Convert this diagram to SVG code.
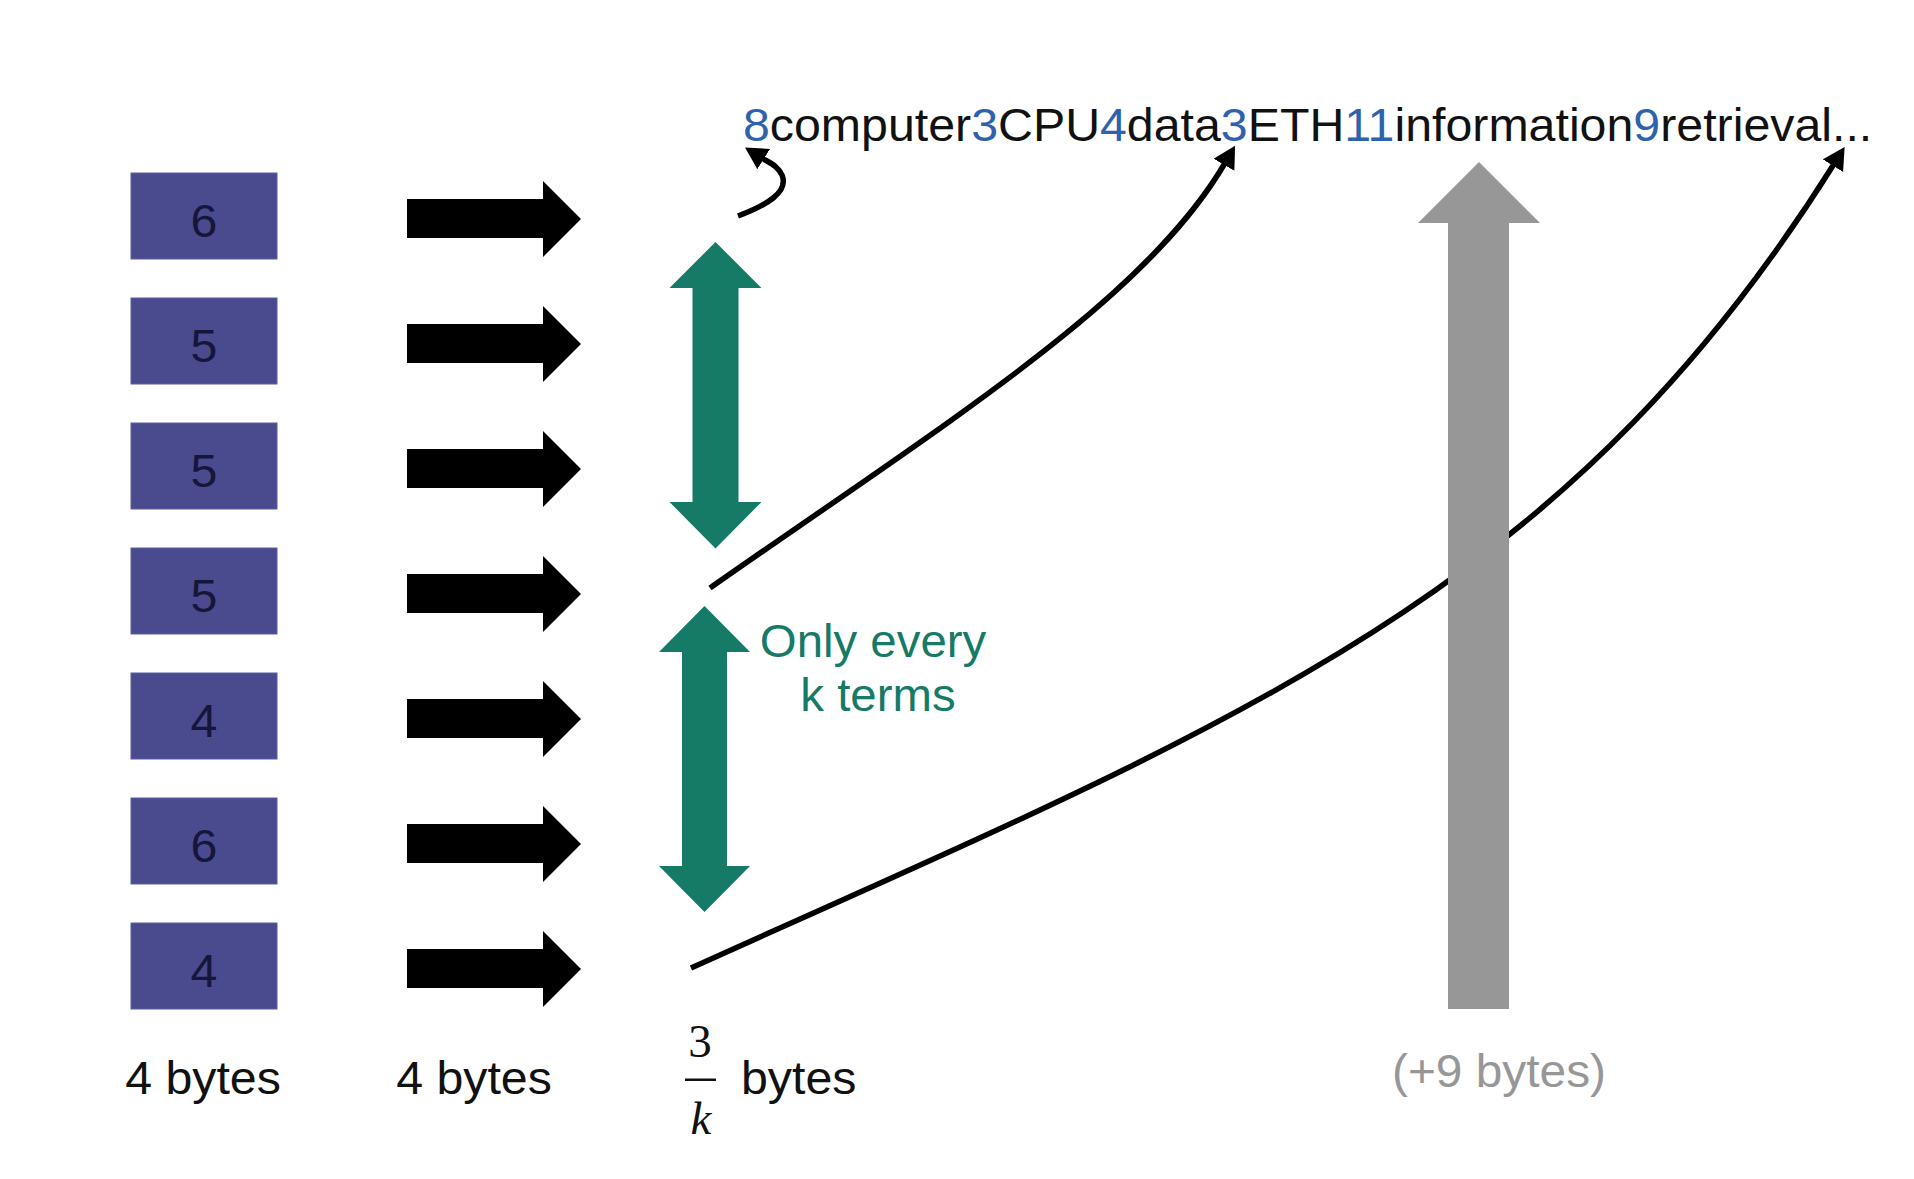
<svg xmlns="http://www.w3.org/2000/svg" width="1914" height="1179" viewBox="0 0 1914 1179">
<defs>
<style>
.box{fill:#4a4a8e;stroke:#5c5ca6;stroke-width:1}
.num{font-family:"Liberation Sans",Arial,sans-serif;font-size:46px;fill:#14163a;text-anchor:middle}
.lbl{font-family:"Liberation Sans",Arial,sans-serif;font-size:46px;fill:#111}
.mid{text-anchor:middle}
.blue{fill:#2e62ad}
.green{fill:#157a66}
.gray{fill:#979797}
.math{font-family:"Liberation Serif","Times New Roman",serif;font-size:47px;fill:#111;text-anchor:middle}
.curve{fill:none;stroke:#000;stroke-width:5.5;marker-end:url(#head)}
</style>
<marker id="head" markerUnits="userSpaceOnUse" markerWidth="26" markerHeight="26" refX="2" refY="12" orient="auto" viewBox="0 0 26 26">
<path d="M0,0 L22,12 L0,24 Z" fill="#000"/>
</marker>
<path id="blk" d="M407,199 H543 V181 L581,219 L543,257 V238 H407 Z" fill="#000"/>
</defs>
<rect width="1914" height="1179" fill="#fff"/>

<g id="boxes">
<g id="box1"><rect class="box" x="131" y="173" width="146" height="86"/><text class="num" transform="translate(204,237) scale(1.05,1)">6</text></g>
<g id="box2"><rect class="box" x="131" y="298" width="146" height="86"/><text class="num" transform="translate(204,362) scale(1.05,1)">5</text></g>
<g id="box3"><rect class="box" x="131" y="423" width="146" height="86"/><text class="num" transform="translate(204,487) scale(1.05,1)">5</text></g>
<g id="box4"><rect class="box" x="131" y="548" width="146" height="86"/><text class="num" transform="translate(204,612) scale(1.05,1)">5</text></g>
<g id="box5"><rect class="box" x="131" y="673" width="146" height="86"/><text class="num" transform="translate(204,737) scale(1.05,1)">4</text></g>
<g id="box6"><rect class="box" x="131" y="798" width="146" height="86"/><text class="num" transform="translate(204,862) scale(1.05,1)">6</text></g>
<g id="box7"><rect class="box" x="131" y="923" width="146" height="86"/><text class="num" transform="translate(204,987) scale(1.05,1)">4</text></g>
</g>

<g id="pointers">
<use href="#blk"/>
<use href="#blk" transform="translate(0,125)"/>
<use href="#blk" transform="translate(0,250)"/>
<use href="#blk" transform="translate(0,375)"/>
<use href="#blk" transform="translate(0,500)"/>
<use href="#blk" transform="translate(0,625)"/>
<use href="#blk" transform="translate(0,750)"/>
</g>

<g id="spans">
<path id="span1" class="green" d="M715.5,242 L761.5,288 H738.5 V502 H761.5 L715.5,548.5 L669.5,502 H692.5 V288 H669.5 Z"/>
<path id="span2" class="green" d="M704.5,606 L750,652 H727 V866 H750 L704.5,912 L659,866 H682 V652 H659 Z"/>
</g>

<g id="connectors">
<path class="curve" d="M738,216 C767,205 789,192 782,175 C778,166 770,163 762,158"/>
<path class="curve" d="M710,588 C950,420 1145,300 1225,163"/>
<path class="curve" d="M691,968 C1241,720 1560,600 1834,164"/>
</g>

<g id="overhead">
<path class="gray" d="M1479,162 L1540,223 H1509 V1009 H1448 V223 H1418 Z"/>
</g>

<g id="labels">
<text class="lbl" transform="translate(743,141) scale(1.05,1)"><tspan class="blue">8</tspan>computer<tspan class="blue">3</tspan>CPU<tspan class="blue">4</tspan>data<tspan class="blue">3</tspan>ETH<tspan class="blue">11</tspan>information<tspan class="blue">9</tspan>retrieval...</text>
<text class="lbl green mid" transform="translate(873,657) scale(1.03,1)">Only every</text>
<text class="lbl green mid" transform="translate(878,711) scale(1.03,1)">k terms</text>
<text class="lbl mid" transform="translate(203,1094) scale(1.05,1)">4 bytes</text>
<text class="lbl mid" transform="translate(474,1094) scale(1.05,1)">4 bytes</text>
<text class="math" x="700" y="1057">3</text>
<rect x="685" y="1078.5" width="31" height="2.5" fill="#111"/>
<text class="math" x="701" y="1134" font-style="italic">k</text>
<text class="lbl" transform="translate(741,1094) scale(1.05,1)">bytes</text>
<text class="lbl gray mid" transform="translate(1499,1087) scale(1.04,1)">(+9 bytes)</text>
</g>
</svg>
